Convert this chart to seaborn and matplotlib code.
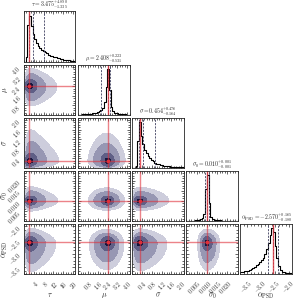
import numpy as np
import pandas as pd
import seaborn as sns
import matplotlib.pyplot as plt
from matplotlib.ticker import AutoMinorLocator, FixedLocator, FuncFormatter

# parameter names, plot ranges, truths and summary numbers
names = [r"\tau", r"\mu", r"\sigma", r"\sigma_0", r"\alpha_{\rm PSD}"]
ranges = [(0.0, 21.0), (0.0, 4.2), (0.0, 2.1), (0.0, 0.025), (-3.75, -1.9)]
truths = [2.2, 2.45, 0.3, 0.0100, -2.57]
medians = [3.475, 2.408, 0.454, 0.010, -2.570]
err_up = [4.890, 0.223, 0.476, 0.001, 0.165]
err_lo = [1.335, 0.531, 0.164, 0.001, 0.180]
ticks = [[4, 8, 12, 16, 20], [0.8, 1.6, 2.4, 3.2, 4.0], [0.4, 0.8, 1.2, 1.6, 2.0],
         [0.005, 0.010, 0.015, 0.020], [-3.5, -3.0, -2.5, -2.0]]
tick_fmt = ["{:.0f}", "{:.1f}", "{:.1f}", "{:.3f}", "{:.1f}"]

# marginal histograms (30 bins across each range)
hist_tau = [0, 10, 80, 100, 78, 60, 50, 42, 35, 30, 27, 24, 21, 19, 16, 14, 12.5, 11, 10, 9,
            8, 7, 6, 5, 4.5, 4, 3.5, 3, 2.5, 2]
hist_mu = [1, 1, 1.5, 1.5, 2, 2, 2.5, 3, 3.5, 4, 5, 6, 8, 11, 16, 28, 60, 100, 55, 18,
           8, 5, 4, 3, 2.5, 2, 1.5, 1.5, 1, 1]
hist_sigma = [0, 0, 5, 60, 100, 70, 52, 40, 32, 26, 22, 18, 15, 12, 10, 8.5, 7.5, 6.5, 5.5, 5,
              4.5, 4, 3.5, 3, 2.8, 2.6, 2.4, 2.2, 2, 1.8]
hist_sigma0 = [0, 0, 0, 0.5, 1, 1.5, 2, 3, 4, 6, 15, 70, 100, 40, 10, 5, 3.5, 2.5, 2, 1.5,
               1.2, 1, 0.8, 0.6, 0.5, 0.4, 0.3, 0.2, 0.1, 0]
hist_alpha = [4, 5, 6, 7, 8, 9, 11, 13, 16, 19, 22, 26, 30, 36, 45, 55, 68, 85, 100, 92,
              62, 35, 18, 9, 5, 4, 3, 3, 2.5, 2]

# compact core of the joint posterior, same bins
core_tau = [0, 0.3, 0.8, 1.0, 0.75, 0.35, 0.12, 0.03] + [0] * 22
core_mu = [0] * 14 + [0.15, 0.45, 0.85, 1.0, 0.7, 0.3, 0.08] + [0] * 9
core_sigma = [0, 0.1, 0.4, 0.9, 1.0, 0.7, 0.35, 0.12, 0.03] + [0] * 21
core_sigma0 = [0] * 9 + [0.05, 0.3, 0.9, 1.0, 0.45, 0.1] + [0] * 15
core_alpha = [0] * 15 + [0.1, 0.35, 0.8, 1.0, 0.8, 0.35, 0.1] + [0] * 8

# broad part of the joint posterior, same bins
wing_tau = [0.2, 0.6, 0.9, 1.0, 1.0, 0.95, 0.85, 0.75, 0.65, 0.57, 0.5, 0.43, 0.37, 0.32, 0.28,
            0.24, 0.21, 0.18, 0.16, 0.14, 0.12, 0.1, 0.085, 0.07, 0.06, 0.05, 0.04, 0.03, 0.025, 0.02]
wing_mu = [0.02, 0.03, 0.045, 0.07, 0.1, 0.15, 0.21, 0.28, 0.37, 0.46, 0.56, 0.67, 0.77, 0.86, 0.93,
           0.98, 1.0, 0.99, 0.95, 0.88, 0.79, 0.69, 0.58, 0.48, 0.38, 0.29, 0.22, 0.16, 0.11, 0.075]
wing_sigma = [0.3, 0.6, 0.85, 0.97, 1.0, 0.98, 0.93, 0.87, 0.8, 0.73, 0.66, 0.59, 0.52, 0.46, 0.41,
              0.36, 0.31, 0.27, 0.23, 0.2, 0.17, 0.15, 0.13, 0.11, 0.095, 0.08, 0.07, 0.06, 0.05, 0.04]
wing_sigma0 = [0, 0.005, 0.01, 0.02, 0.05, 0.1, 0.18, 0.32, 0.5, 0.7, 0.88, 0.99, 0.99, 0.93, 0.84,
               0.71, 0.56, 0.42, 0.3, 0.2, 0.13, 0.08, 0.05, 0.03, 0.015, 0.008, 0.004, 0.002, 0.001, 0]
wing_alpha = [0.13, 0.16, 0.2, 0.24, 0.29, 0.34, 0.4, 0.47, 0.53, 0.6, 0.67, 0.74, 0.8, 0.85, 0.9,
              0.94, 0.975, 0.99, 1.0, 0.975, 0.9, 0.8, 0.68, 0.54, 0.42, 0.3, 0.21, 0.14, 0.09, 0.05]

hists = [hist_tau, hist_mu, hist_sigma, hist_sigma0, hist_alpha]
cores = [core_tau, core_mu, core_sigma, core_sigma0, core_alpha]
wings = [wing_tau, wing_mu, wing_sigma, wing_sigma0, wing_alpha]
core_frac = 0.25

levels = [0.135, 0.325, 0.607, 0.882, 1.0]
fill_colors = ["#cdcddc", "#9797b3", "#5f5f86", "#15153d"]
red = "#e0303a"

sns.set_style("ticks")
plt.rcParams["font.family"] = "serif"
plt.rcParams["mathtext.fontset"] = "cm"


def bins_of(k):
    lo, hi = ranges[k]
    edges = np.linspace(lo, hi, len(hists[k]) + 1)
    return edges, 0.5 * (edges[1:] + edges[:-1])


def norm(v):
    v = np.array(v, float)
    return v / v.sum()


def style_axis(ax, k, which):
    axis = ax.xaxis if which == "x" else ax.yaxis
    axis.set_major_locator(FixedLocator(ticks[k]))
    axis.set_minor_locator(AutoMinorLocator(4))
    fmt = tick_fmt[k]
    axis.set_major_formatter(FuncFormatter(lambda v, p: "$" + fmt.format(v) + "$"))


n = len(names)
fig, axes = plt.subplots(n, n, figsize=(2.96, 3.02), dpi=100)
fig.subplots_adjust(left=0.081, right=0.986, bottom=0.092, top=0.962,
                    wspace=0.05, hspace=0.05)

for i in range(n):
    for j in range(n):
        ax = axes[i, j]
        if j > i:
            ax.set_axis_off()
            continue
        if i == j:
            edges, mid = bins_of(i)
            sns.histplot(x=mid, weights=hists[i], bins=len(mid), binrange=ranges[i],
                         element="step", fill=False, color="k", linewidth=0.8, ax=ax)
            q = [medians[i] - err_lo[i], medians[i], medians[i] + err_up[i]]
            for v in q:
                ax.axvline(v, ls=(0, (2.5, 1.5)), color="#3c3c5c", lw=0.6)
            ax.axvline(truths[i], color=red, lw=1.0, alpha=0.8)
            ax.set_ylim(0, 1.1 * max(hists[i]))
            ax.set_yticks([])
            ax.set_title("$%s = %.3f^{+%.3f}_{-%.3f}$" % (names[i], medians[i], err_up[i], err_lo[i]),
                         fontsize=4.2, pad=1.5)
        else:
            ex, mx = bins_of(j)
            ey, my = bins_of(i)
            dens = core_frac * np.outer(norm(cores[i]), norm(cores[j])) + \
                (1 - core_frac) * np.outer(norm(wings[i]), norm(wings[j]))
            xx, yy = np.meshgrid(mx, my)
            grid = pd.DataFrame({"px": xx.ravel(), "py": yy.ravel(), "w": dens.ravel()})
            grid = grid[grid["w"] > 0]
            sns.kdeplot(data=grid, x="px", y="py", weights="w", fill=True, color=fill_colors[-1],
                        levels=levels, colors=fill_colors, bw_adjust=0.35, ax=ax)
            ax.axvline(truths[j], color=red, lw=1.0, alpha=0.6)
            ax.axhline(truths[i], color=red, lw=1.0, alpha=0.6)
            ax.plot(truths[j], truths[i], "s", color=red, ms=2)
            ax.set_ylim(*ranges[i])
            style_axis(ax, i, "y")
        ax.set_xlim(*ranges[j])
        style_axis(ax, j, "x")
        ax.set_xlabel("")
        ax.set_ylabel("")
        ax.tick_params(which="both", direction="in", top=True, right=(i != j),
                       labelsize=4.2, width=0.5)
        ax.tick_params(which="major", length=2.5)
        ax.tick_params(which="minor", length=1.3)
        for sp in ax.spines.values():
            sp.set_linewidth(0.6)
        if i == n - 1:
            plt.setp(ax.get_xticklabels(), rotation=45, ha="right", rotation_mode="anchor")
            ax.set_xlabel("$%s$" % names[j], fontsize=5.5)
            ax.xaxis.set_label_coords(0.5, -0.33)
        else:
            ax.set_xticklabels([])
        if j == 0 and i > 0:
            plt.setp(ax.get_yticklabels(), rotation=45, ha="right", rotation_mode="anchor")
            ax.set_ylabel("$%s$" % names[i], fontsize=5.5)
            ax.yaxis.set_label_coords(-0.28, 0.5)
        elif i != j:
            ax.set_yticklabels([])

fig.savefig("out.png", dpi=100)
